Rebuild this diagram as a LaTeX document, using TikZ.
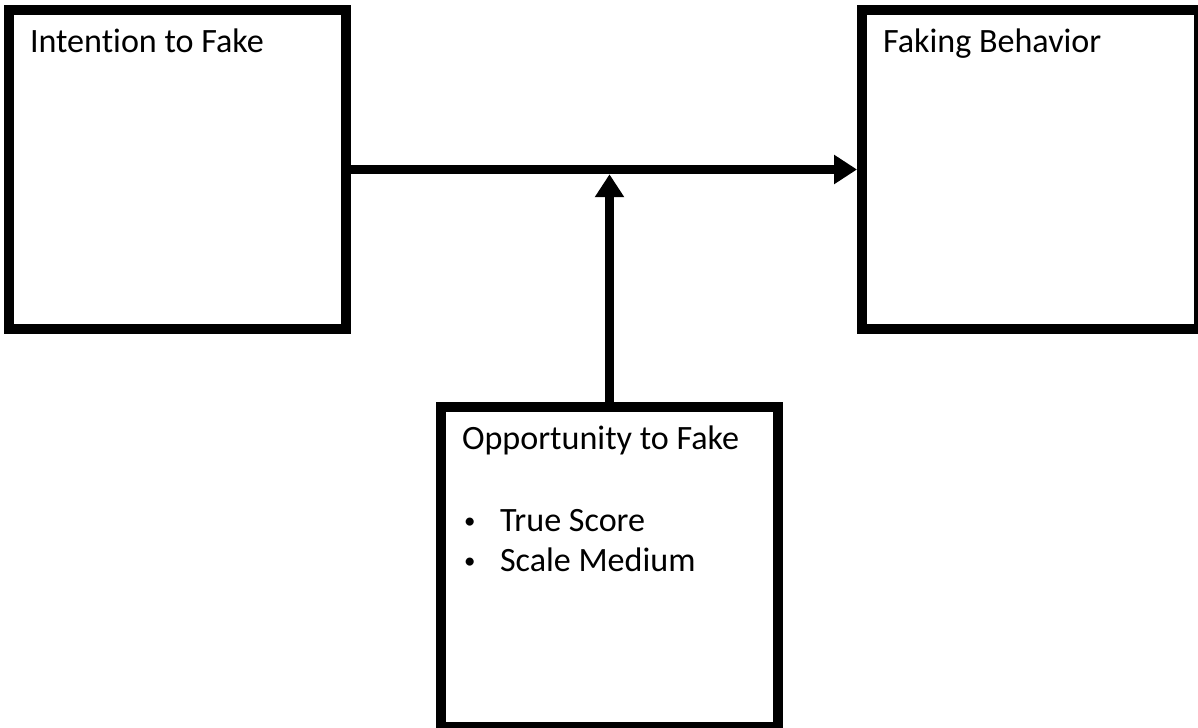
\documentclass[tikz,border=0pt]{standalone}
\usepackage{fontspec}
\setmainfont[Ligatures=NoCommon]{Carlito}
\usepackage{tikz}
\usetikzlibrary{arrows.meta}
\usetikzlibrary{positioning}
\tikzset{
    factor/.style={
           rectangle,
           draw=black, line width=0.2cm,
           inner xsep=0.42cm, inner ysep=0.38cm,
           minimum width=6.74cm, minimum height=6.38cm,
           font=\fontsize{19.4}{22.8}\selectfont},
    link/.style={
           line width=0.19cm,
           -{Triangle[length=0.46cm,width=0.56cm]}},
}
\newcommand{\factorbox}[1]{\parbox[t][5.62cm][t]{5.90cm}{\raggedright #1}}
\newcommand{\factoritem}{\makebox[0.76cm][l]{\hspace{0.04cm}\raisebox{0.07cm}{\fontsize{13}{13}\selectfont\textbullet}}}

\begin{document}
\begin{tikzpicture}

 \useasboundingbox (0,0) rectangle (23.96,-14.56);

 \node[factor] (INTENTION) at (3.55,-3.39)
 {\factorbox{Intention to Fake}};

 \node[factor,
 right of=INTENTION,
 node distance=17.06cm] (BEHAVIOR)
 {\factorbox{Faking Behavior}};

 \node[factor,
 below of=INTENTION,
 node distance=7.95cm,
 xshift=8.64cm,
 minimum height=6.40cm] (OPPORTUNITY)
 {\parbox[t][5.64cm][t]{5.90cm}{\raggedright Opportunity to Fake\\[24pt]
   \factoritem True Score\\
   \factoritem Scale Medium}};

 \coordinate (JOIN) at (OPPORTUNITY.north |- INTENTION.east);

 \path
 (INTENTION) edge[link] (BEHAVIOR)
 (OPPORTUNITY) edge[link, shorten >=0.095cm] (JOIN);

\end{tikzpicture}
\end{document}
